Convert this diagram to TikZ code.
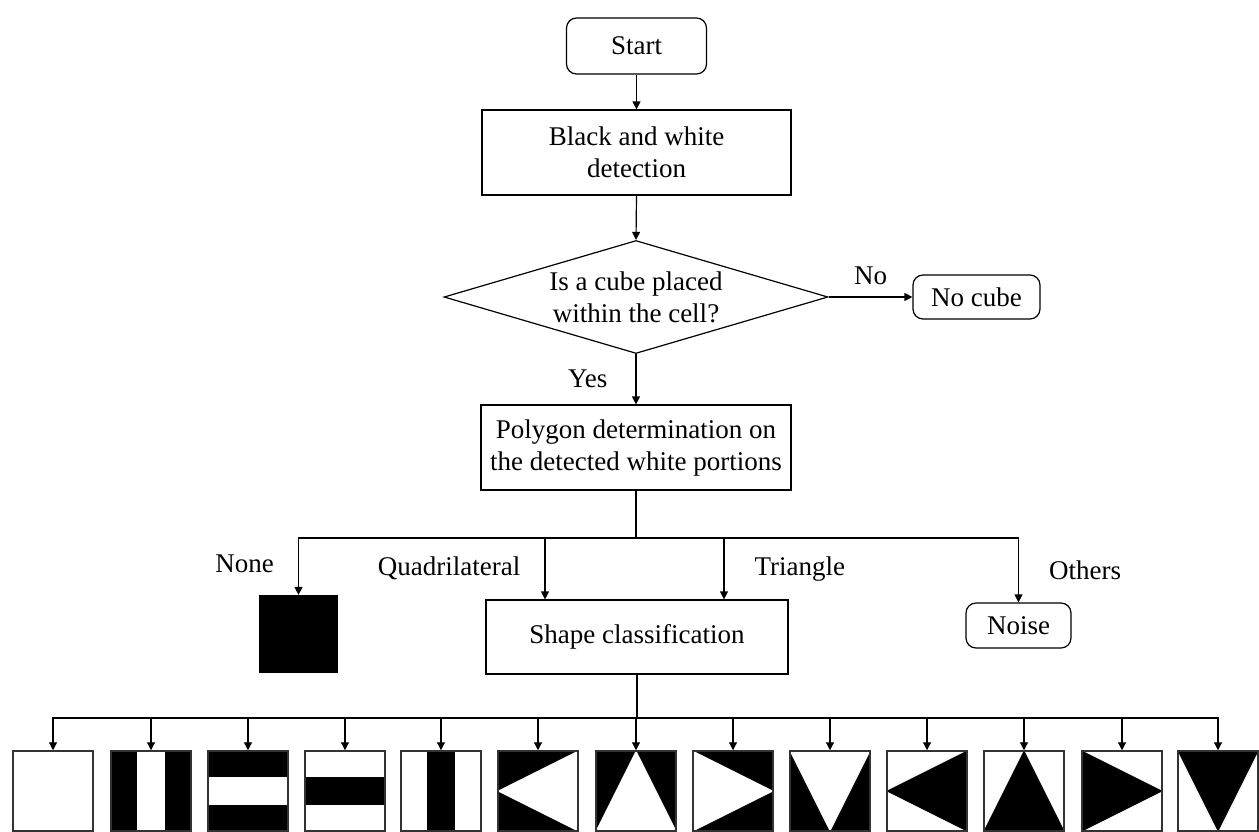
\documentclass[tikz,border=0pt]{standalone}
\usepackage{fontspec}
\setmainfont{Liberation Serif}
\usetikzlibrary{shapes.geometric,arrows.meta,calc,backgrounds}
\begin{document}
\begin{tikzpicture}[x=1pt,y=-1pt,
  every node/.style={font=\fontsize{27}{32}\selectfont},
  box/.style={draw, line width=1.2pt, inner sep=0pt, align=center},
  rbox/.style={box, rounded corners=10pt},
  lbl/.style={inner sep=0pt},
  arr/.style={line width=1.2pt, -{Triangle[length=8pt,width=8pt]}},
  ln/.style={line width=1.2pt},
  sq/.style={draw=black!80, line width=1.5pt, minimum size=80pt, inner sep=0pt}
]
\useasboundingbox (0,0) rectangle (1259,831);

\node[rbox, minimum width=140pt, minimum height=56pt] (start) at (636.5,46) {Start};
\node[box, minimum width=309pt, minimum height=85pt] (bw) at (636.5,152.5) {Black and white\\detection};
\node[box, shape=diamond, aspect=3.4, minimum width=384pt, minimum height=113pt] (dec) at (636,297) {Is a cube placed\\within the cell?};
\node[rbox, minimum width=127pt, minimum height=44pt] (nocube) at (976.5,297) {No cube};
\node[box, minimum width=310pt, minimum height=85pt] (poly) at (636,447.5) {Polygon determination on\\the detected white portions};
\node[draw, line width=1.2pt, fill=black, minimum size=77pt, inner sep=0pt] (blk) at (298.5,634) {};
\node[box, minimum width=302pt, minimum height=74pt] (shape) at (637,637) {Shape classification};
\node[rbox, minimum width=105pt, minimum height=45pt] (noise) at (1018.5,625.5) {Noise};

\draw[arr] (start) -- (bw);
\draw[arr] (bw.south) -- (dec.north);
\draw[arr] (dec.east) -- node[lbl, above=12pt] {No} (nocube);
\draw[arr] (dec.south) -- node[lbl, left=28pt] {Yes} (poly);

\coordinate (j1) at (636,538);
\coordinate (jq) at (545,538);
\coordinate (jt) at (724,538);
\draw[ln] (poly.south) -- (j1);
\draw[arr] (j1) -| (blk.north) node[lbl, pos=0.73, left=24pt] {None};
\draw[arr] (j1) -| (noise.north) node[lbl, pos=0.75, right=30pt] {Others};
\draw[arr] (jq) -- (jq |- shape.north) node[lbl, midway, left=24pt] {Quadrilateral};
\draw[arr] (jt) -- (jt |- shape.north) node[lbl, midway, right=30pt] {Triangle};

% bottom row squares
\foreach \i/\x in {1/53,2/151,3/248,4/345,5/441,6/538,7/636,8/733,9/830,10/927,11/1024,12/1122,13/1218}
  \node[sq] (q\i) at (\x,791) {};

\begin{scope}[on background layer]
  \fill[white] (0,0) rectangle (1259,831);
  % 2: vertical black-white-black
  \fill (q2.north west) rectangle ($(q2.south west)!1/3!(q2.south east)$);
  \fill ($(q2.north west)!2/3!(q2.north east)$) rectangle (q2.south east);
  % 3: horizontal black-white-black
  \fill (q3.north west) rectangle ($(q3.north east)!1/3!(q3.south east)$);
  \fill ($(q3.north west)!2/3!(q3.south west)$) rectangle (q3.south east);
  % 4: horizontal white-black-white
  \fill ($(q4.north west)!1/3!(q4.south west)$) rectangle ($(q4.north east)!2/3!(q4.south east)$);
  % 5: vertical white-black-white
  \fill ($(q5.north west)!1/3!(q5.north east)$) rectangle ($(q5.south west)!2/3!(q5.south east)$);
  % 6-9: black with white triangle
  \foreach \k in {6,7,8,9} \fill (q\k.north west) rectangle (q\k.south east);
  \fill[white] (q6.north east) -- (q6.west) -- (q6.south east) -- cycle;
  \fill[white] (q7.north) -- (q7.south west) -- (q7.south east) -- cycle;
  \fill[white] (q8.north west) -- (q8.east) -- (q8.south west) -- cycle;
  \fill[white] (q9.north west) -- (q9.north east) -- (q9.south) -- cycle;
  % 10-13: white with black triangle
  \fill (q10.north east) -- (q10.west) -- (q10.south east) -- cycle;
  \fill (q11.north) -- (q11.south west) -- (q11.south east) -- cycle;
  \fill (q12.north west) -- (q12.east) -- (q12.south west) -- cycle;
  \fill (q13.north west) -- (q13.north east) -- (q13.south) -- cycle;
\end{scope}

\coordinate (j2) at (636,718);
\draw[ln] (shape.south) -- (shape.south |- j2);
\foreach \i in {1,...,13}
  \draw[arr] (j2) -| (q\i.north);
\end{tikzpicture}
\end{document}
